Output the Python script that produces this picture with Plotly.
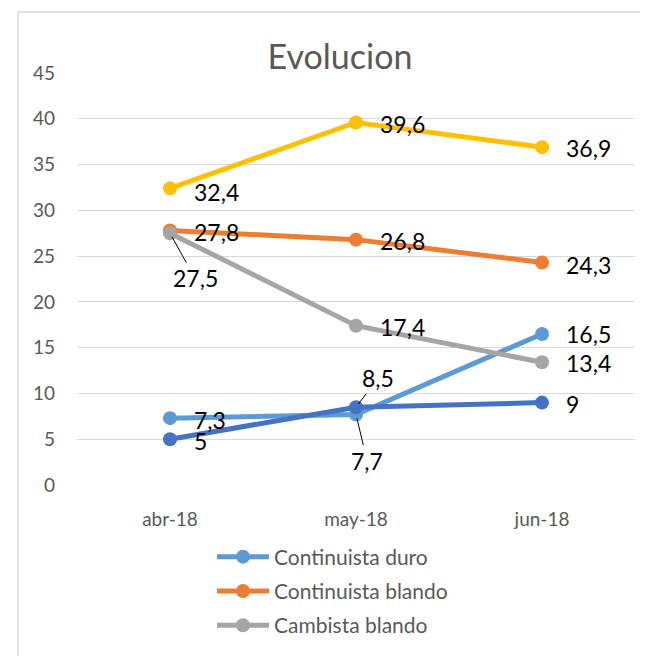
import plotly.graph_objects as go

# ── data ─────────────────────────────────────────────
months = ["abr-18", "may-18", "jun-18"]

continuista_duro = [7.3, 7.7, 16.5]
continuista_blando = [27.8, 26.8, 24.3]
cambista_blando = [27.5, 17.4, 13.4]
cambista_duro = [32.4, 39.6, 36.9]
otros = [5, 8.5, 9]

series_names = ["Continuista duro", "Continuista blando", "Cambista blando",
                "Cambista duro", "Otros"]
series_values = [continuista_duro, continuista_blando, cambista_blando,
                 cambista_duro, otros]
in_legend = [True, True, True, False, False]

# ── styles ───────────────────────────────────────────
colors = ["#5B9BD5", "#ED7D31", "#A5A5A5", "#FFC000", "#4472C4"]
FONT = "Lato"
GREY_TXT = "#595959"
SHIFT = 8  # page body margin

# label offsets per point: (dx, dy, leader line?)
label_offsets = [
    [(22, 2, False), (11, 46, True), (22, 0, False)],
    [(22, 2, False), (22, 1, False), (22, 2, False)],
    [(25, 45, True), (22, 1, False), (22, 1, False)],
    [(22, 4, False), (22, 2, False), (22, 1, False)],
    [(22, 2, False), (22, -29, True), (22, 1, False)],
]

fig = go.Figure()

for i, (name, vals) in enumerate(zip(series_names, series_values)):
    fig.add_trace(go.Scatter(
        x=months, y=vals, name=name,
        mode="lines+markers",
        line=dict(color=colors[i], width=5),
        marker=dict(color=colors[i], size=14),
        showlegend=in_legend[i],
        legendgroup=name,
    ))

annotations = []
for i, vals in enumerate(series_values):
    for j, v in enumerate(vals):
        dx, dy, leader = label_offsets[i][j]
        annotations.append(dict(
            x=months[j], y=v, xref="x", yref="y",
            text=str(v).replace(".", ","),
            showarrow=True, ax=dx, ay=dy,
            arrowhead=0, arrowwidth=1, standoff=4,
            arrowcolor="black" if leader else "rgba(0,0,0,0)",
            xanchor="center" if leader else "left",
            yanchor="middle",
            font=dict(family=FONT, size=23, color="black"),
        ))

# chart border (Excel chart area frame)
bx0 = (18 - 77) / 558
by1 = (485 - 12) / 412
shapes = [
    dict(type="line", xref="paper", yref="paper", x0=bx0, x1=bx0, y0=-0.5, y1=by1,
         line=dict(color="#d9d9d9", width=1.5), layer="below"),
    dict(type="line", xref="paper", yref="paper", x0=bx0, x1=1.1, y0=by1, y1=by1,
         line=dict(color="#d9d9d9", width=1.5), layer="below"),
    dict(type="line", xref="paper", yref="paper", x0=-0.14, x1=-0.124,
         y0=(485 - 437) / 412, y1=(485 - 437) / 412,
         line=dict(color="#cccccc", width=1), layer="below"),
]

fig.update_layout(
    width=648, height=656,
    margin=dict(l=77 - SHIFT, r=13 + SHIFT, t=73 - SHIFT, b=171 + SHIFT),
    paper_bgcolor="white", plot_bgcolor="white",
    font=dict(family=FONT, color=GREY_TXT),
    title=dict(text="Evolucion", x=(340 - SHIFT) / 648, xanchor="center",
               y=1 - (57 - SHIFT) / 656, yanchor="middle",
               font=dict(size=34, color=GREY_TXT, family=FONT)),
    xaxis=dict(
        type="category", range=[-0.5, 2.5], showgrid=False, zeroline=False,
        showline=False, ticks="", tickfont=dict(size=19, color=GREY_TXT),
        ticklabelstandoff=21, automargin=False,
    ),
    yaxis=dict(
        range=[0, 45], dtick=5, showgrid=True, gridcolor="#d9d9d9", gridwidth=1,
        zeroline=False, showline=False, ticks="",
        tickfont=dict(size=19, color=GREY_TXT), ticklabelstandoff=21,
        automargin=False,
    ),
    legend=dict(
        x=(212 - 77) / 558, xanchor="left", y=-0.125, yanchor="top",
        font=dict(size=21, color=GREY_TXT, family=FONT),
        tracegroupgap=4, itemwidth=52, bgcolor="rgba(0,0,0,0)",
    ),
    annotations=annotations,
    shapes=shapes,
)

fig.write_html("out.html")
